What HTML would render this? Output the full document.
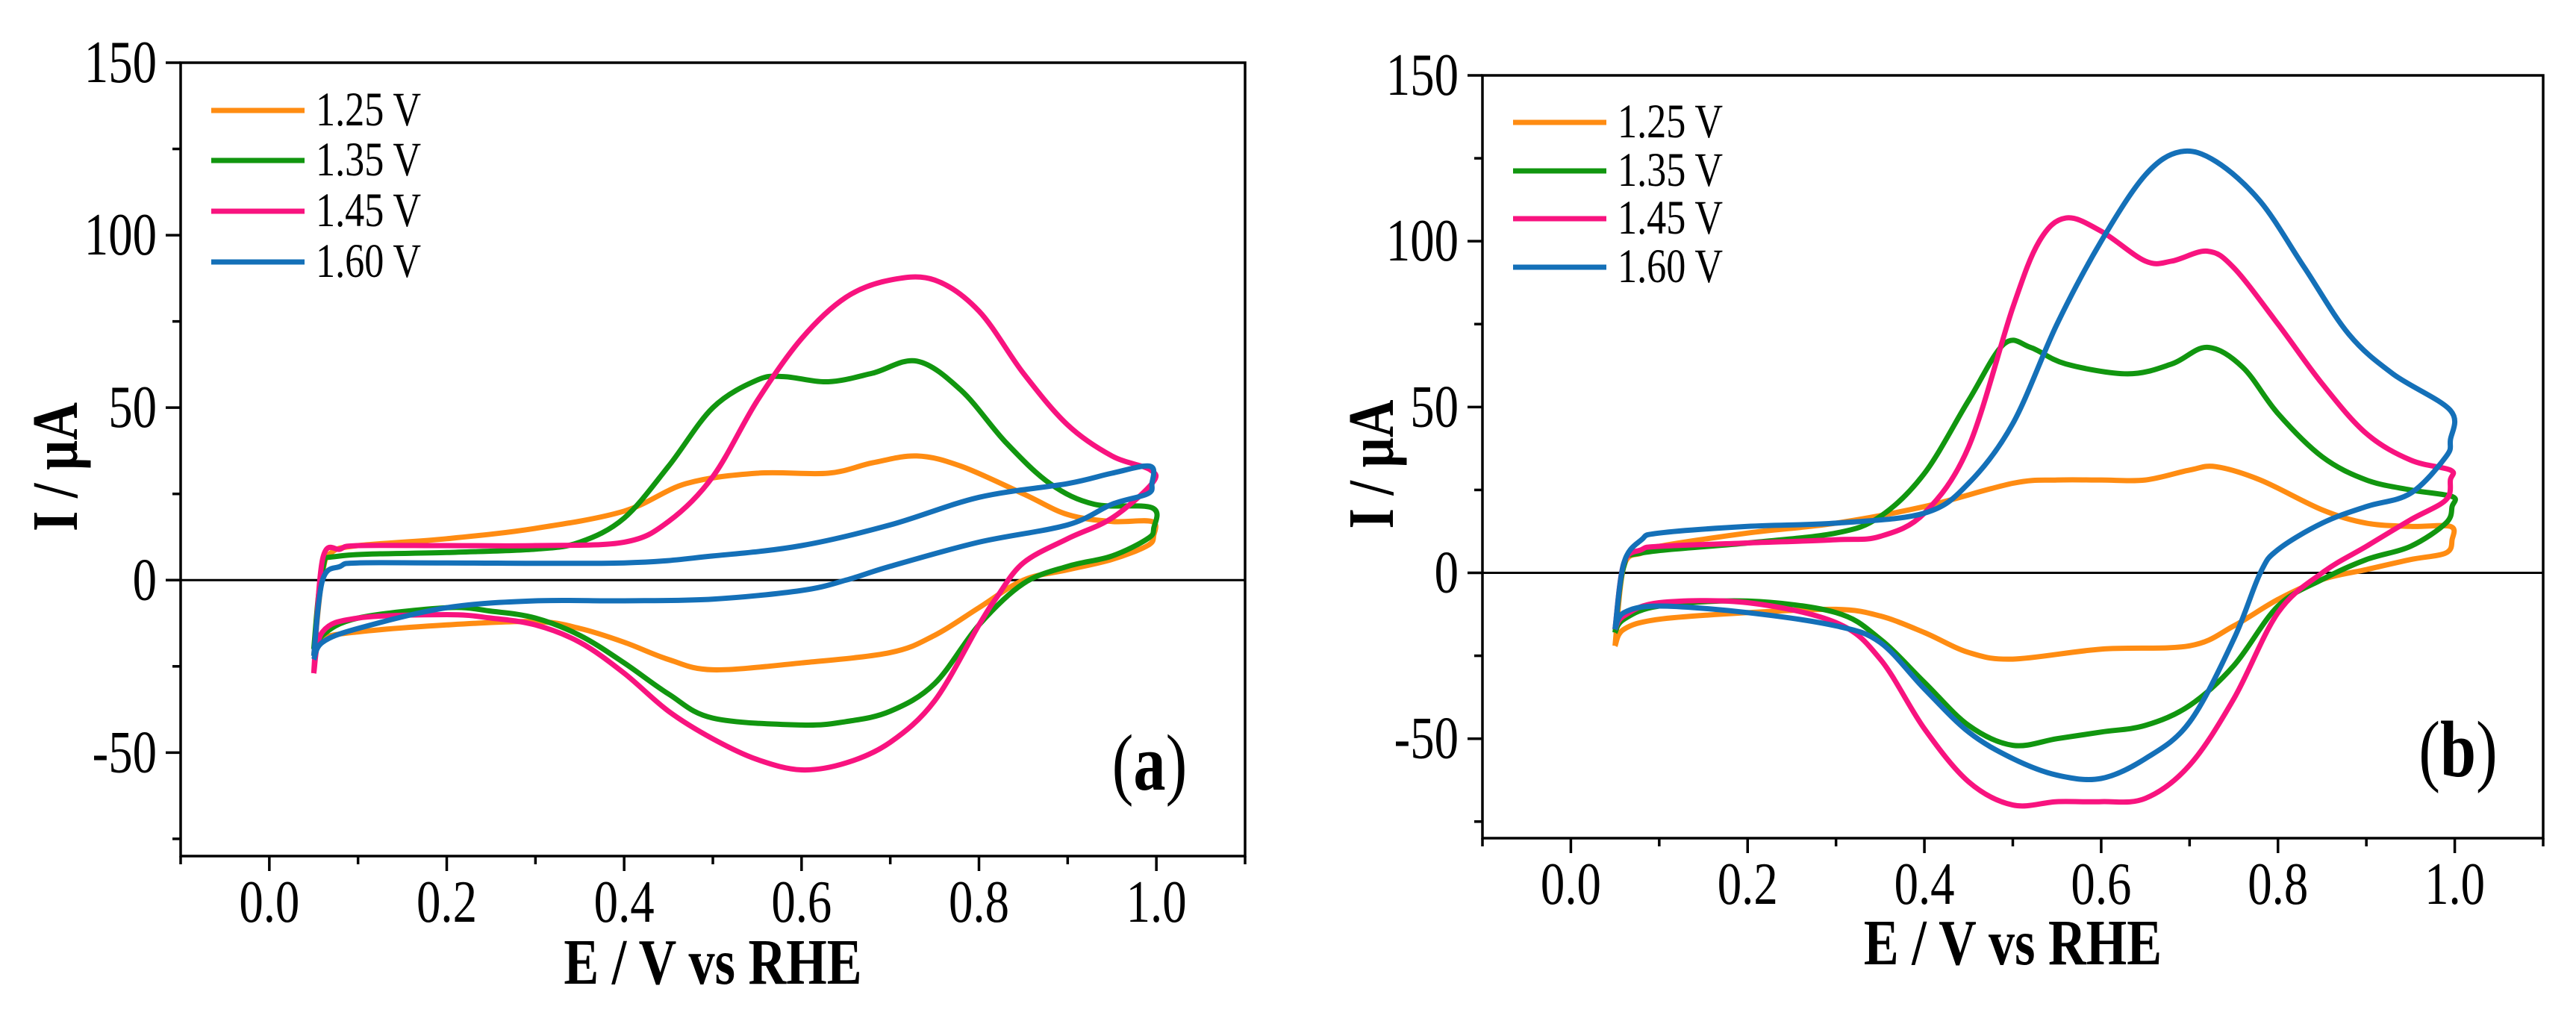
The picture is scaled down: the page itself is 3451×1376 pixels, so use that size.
<!DOCTYPE html>
<html><head><meta charset="utf-8"><style>
html,body{margin:0;padding:0;background:#fff;}
svg{display:block;font-family:"Liberation Serif",serif;}
</style></head><body>
<svg id="fig" width="3451" height="1376" viewBox="0 0 3451 1376" xmlns="http://www.w3.org/2000/svg"></svg>
<script>
// ---- data ----
const xTicks = [0.0, 0.2, 0.4, 0.6, 0.8, 1.0];
const xTickLabels = ["0.0","0.2","0.4","0.6","0.8","1.0"];
const yTicks = [-50, 0, 50, 100, 150];
const yTickLabels = ["-50","0","50","100","150"];
const seriesNames = ["1.25 V","1.35 V","1.45 V","1.60 V"];
const seriesColors = ["#ff8c12","#11960f","#f8137f","#1470b8"];

// Panel (a)
const aOrangeE = [0.05,0.06,0.07,0.1,0.2,0.3,0.4,0.47,0.55,0.63,0.68,0.73,0.78,0.85,0.9,0.95,0.995,0.997,0.99,0.95,0.9,0.85,0.8,0.75,0.7,0.6,0.5,0.45,0.4,0.35,0.3,0.2,0.1,0.06,0.05];
const aOrangeI = [-22,2,8,10,12,15,20,28,31,31,34,36,33,25,19,17,17,13,10,6,3,0,-8,-16,-21,-24,-26,-23,-18,-14,-12,-13,-15,-17,-22];
const aGreenE = [0.05,0.06,0.08,0.2,0.3,0.35,0.4,0.45,0.5,0.55,0.58,0.63,0.68,0.73,0.78,0.83,0.88,0.93,0.995,0.997,0.99,0.95,0.9,0.85,0.8,0.75,0.7,0.65,0.6,0.5,0.45,0.4,0.35,0.3,0.25,0.2,0.1,0.06,0.05];
const aGreenI = [-20,3,7,8,9,11,18,33,50,58,59,57.5,60,63.5,55,40,28,22,21,15,12,7,4,-1,-13,-30,-38,-41,-42,-40,-33,-24,-16,-11,-9,-8,-11,-16,-22];
const aPinkE = [0.05,0.06,0.08,0.1,0.2,0.3,0.4,0.45,0.5,0.55,0.6,0.65,0.7,0.75,0.8,0.85,0.9,0.95,0.993,0.995,0.95,0.9,0.85,0.82,0.8,0.75,0.7,0.65,0.6,0.55,0.5,0.45,0.4,0.35,0.3,0.25,0.2,0.1,0.06,0.05];
const aPinkI = [-27,6,9,10,10,10,11,17,30,52,70,82,87,87,78,60,45,36,32,28,18,12,5,-5,-13,-35,-47,-53,-55,-52,-46,-38,-27,-18,-13,-11,-10,-11,-15,-27];
const aBlueE = [0.05,0.06,0.08,0.1,0.2,0.4,0.5,0.6,0.7,0.8,0.9,0.95,0.993,0.995,0.99,0.95,0.9,0.8,0.7,0.65,0.6,0.5,0.4,0.3,0.2,0.1,0.06,0.05];
const aBlueI = [-22,0,4,5,5,5,7,10,16,24,28,31,33,28,25,22,16,11,4,0,-3,-5.5,-6,-6,-8,-14,-18,-23];

// Panel (b)
const bOrangeE = [0.05,0.06,0.08,0.1,0.2,0.3,0.4,0.5,0.55,0.6,0.65,0.7,0.73,0.78,0.85,0.9,0.95,0.995,0.997,0.99,0.95,0.9,0.85,0.8,0.75,0.7,0.6,0.5,0.45,0.4,0.35,0.3,0.2,0.1,0.06,0.05];
const bOrangeI = [-22,2,6,8,12,15,20,27,28,28,28,31,32,28,19,15,14,14,10,6,4,1,-2,-8,-16,-22,-23,-26,-24,-18,-13,-11,-12,-14,-17,-22];
const bGreenE = [0.05,0.06,0.08,0.2,0.3,0.35,0.4,0.45,0.49,0.52,0.56,0.63,0.68,0.72,0.76,0.8,0.85,0.9,0.95,0.997,0.997,0.99,0.95,0.9,0.85,0.8,0.75,0.7,0.65,0.6,0.55,0.5,0.45,0.4,0.35,0.3,0.2,0.1,0.06,0.05];
const bGreenI = [-18,2,6,9,12,17,30,52,69,68,63,60,63,68,62,48,35,28,25,23,20,15,8,4,-2,-10,-28,-40,-46,-48,-50,-52,-46,-33,-20,-12,-8.5,-10,-14,-18];
const bPinkE = [0.05,0.06,0.08,0.1,0.2,0.3,0.35,0.4,0.45,0.5,0.53,0.56,0.6,0.65,0.68,0.72,0.75,0.8,0.85,0.9,0.95,0.995,0.995,0.99,0.95,0.9,0.85,0.8,0.75,0.7,0.65,0.6,0.55,0.5,0.45,0.4,0.35,0.3,0.2,0.1,0.06,0.05];
const bPinkI = [-17,3,7,8,9,10,11,18,38,80,100,107,103,94,94,97,92,75,57,42,34,31,28,22,16,8,0,-12,-38,-58,-68,-69,-69,-70,-63,-47,-26,-15,-9,-9,-13,-17];
const bBlueE = [0.05,0.06,0.08,0.1,0.2,0.3,0.4,0.45,0.5,0.55,0.6,0.65,0.69,0.73,0.78,0.83,0.88,0.93,0.995,0.995,0.99,0.95,0.9,0.85,0.8,0.78,0.75,0.7,0.65,0.6,0.55,0.5,0.45,0.4,0.35,0.3,0.2,0.1,0.06,0.05];
const bBlueI = [-17,3,10,12,14,15,18,27,45,75,100,120,127,124,112,92,72,60,49,40,35,24,20,15,7,0,-20,-45,-56,-62,-61,-56,-48,-35,-21,-16,-12,-10,-12,-17];

const panels = [
  {id:"a", label:"a", L:242, R:1668, T:84, B:1147, legX:283, legY:[148,215,283,351], tagX:1540, tagY:1058,
   yTitleX:77, xTitleY:1318,
   series:[[aOrangeE,aOrangeI],[aGreenE,aGreenI],[aPinkE,aPinkI],[aBlueE,aBlueI]]},
  {id:"b", label:"b", L:1986, R:3407, T:101, B:1123, legX:2027, legY:[164,229,293,358], tagX:3293, tagY:1040,
   yTitleX:1840, xTitleY:1292,
   series:[[bOrangeE,bOrangeI],[bGreenE,bGreenI],[bPinkE,bPinkI],[bBlueE,bBlueI]]}
];
const XMIN=-0.1, XMAX=1.1, YMIN=-80, YMAX=150;
const NS="http://www.w3.org/2000/svg";
const svg=document.getElementById('fig');
function mk(tag,attrs,parent){const e=document.createElementNS(NS,tag);for(const k in attrs)e.setAttribute(k,attrs[k]);(parent||svg).appendChild(e);return e;}
function txt(parent,x,y,str,size,anchor,bold,extra){
  const t=mk('text',{transform:`translate(${x} ${y}) ${extra||''} scale(0.9 1.12)`,'font-size':size,'text-anchor':anchor,'font-weight':bold?'bold':'normal'},parent);
  t.textContent=str;return t;
}
function smooth(pts){
  let d='M'+pts[0][0].toFixed(1)+','+pts[0][1].toFixed(1);
  for(let i=0;i<pts.length-1;i++){
    const p0=pts[Math.max(0,i-1)],p1=pts[i],p2=pts[i+1],p3=pts[Math.min(pts.length-1,i+2)];
    const c1=[p1[0]+(p2[0]-p0[0])/6,p1[1]+(p2[1]-p0[1])/6];
    const c2=[p2[0]-(p3[0]-p1[0])/6,p2[1]-(p3[1]-p1[1])/6];
    d+=` C${c1[0].toFixed(1)},${c1[1].toFixed(1)} ${c2[0].toFixed(1)},${c2[1].toFixed(1)} ${p2[0].toFixed(1)},${p2[1].toFixed(1)}`;
  }
  return d;
}

panels.forEach(p=>{
  const g=mk('g',{});
  
  
  const sx=v=>p.L+(v-XMIN)/(XMAX-XMIN)*(p.R-p.L);
  const sy=v=>p.B-(v-YMIN)/(YMAX-YMIN)*(p.B-p.T);
  const z=mk('line',{x1:p.L,x2:p.R,y1:sy(0),y2:sy(0),stroke:'#000','stroke-width':3},g);
  
  
  p.series.forEach((s,i)=>{
    const pts=s[0].map((e,k)=>[sx(e),sy(s[1][k])]);
    const pl=mk('path',{d:smooth(pts),fill:'none',stroke:seriesColors[i],'stroke-width':7,'stroke-linejoin':'round'},g);
    
    
  });
  const fr=mk('rect',{x:p.L,y:p.T,width:p.R-p.L,height:p.B-p.T,fill:'none',stroke:'#000','stroke-width':3.5},g);
  
  
  for(let v=-0.1;v<=1.1001;v+=0.1){
    const major=Math.abs(Math.round(v*10)%2)===0;
    mk('line',{x1:sx(v),x2:sx(v),y1:p.B,y2:p.B+(major?20:11),stroke:'#000','stroke-width':3.5},g);
  }
  xTicks.forEach((v,i)=>{
    const t=txt(g,sx(v),p.B+88,xTickLabels[i],72,'middle',false);
    
    
  });
  for(let v=-75;v<=150;v+=25){
    const major=(v%50===0);
    mk('line',{x1:p.L,x2:p.L-(major?20:11),y1:sy(v),y2:sy(v),stroke:'#000','stroke-width':3.5},g);
  }
  yTicks.forEach((v,i)=>{
    const t=txt(g,p.L-32,sy(v)+26,yTickLabels[i],72,'end',false);
    
    
  });
  const xt=txt(g,(p.L+p.R)/2,p.xTitleY,'E / V vs RHE',78,'middle',true);
  
  
  const yc=(p.T+p.B)/2+10;
  const yt=mk('text',{transform:`translate(${p.yTitleX+26} ${yc}) rotate(-90) scale(0.9 1.12)`,'font-size':78,'font-weight':'bold','text-anchor':'middle'},g);
  yt.textContent='I / µA';
  
  
  seriesNames.forEach((n,i)=>{
    const lg=mk('g',{},g);
    
    
    mk('line',{x1:p.legX,x2:p.legX+125,y1:p.legY[i],y2:p.legY[i],stroke:seriesColors[i],'stroke-width':7},lg);
    txt(lg,p.legX+140,p.legY[i]+20,n,58,'start',false);
  });
  const tg=mk('text',{transform:`translate(${p.tagX} ${p.tagY}) scale(0.9 1.12)`,'font-size':96,'text-anchor':'middle'},g);
  
  
  const t1=mk('tspan',{},tg);t1.textContent='(';
  const t2=mk('tspan',{'font-weight':'bold'},tg);t2.textContent=p.label;
  const t3=mk('tspan',{},tg);t3.textContent=')';
});
</script>
</body></html>
